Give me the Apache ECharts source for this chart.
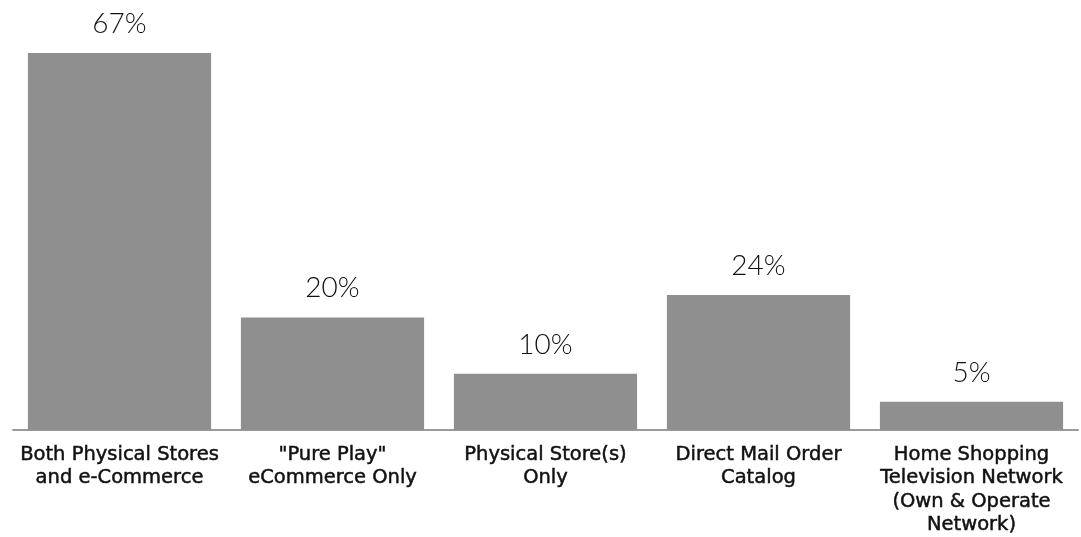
<!DOCTYPE html>
<html>
<head>
<meta charset="utf-8">
<script src="https://cdn.jsdelivr.net/npm/echarts@6/dist/echarts.min.js"></script>
<style>
  html, body { margin: 0; padding: 0; background: #ffffff; }
  #chart { width: 1081px; height: 537px; }
</style>
</head>
<body>
<div id="chart"></div>
<script>
// Share of respondents by retail channel
const categories = [
  'Both Physical Stores\nand e-Commerce',
  '"Pure Play"\neCommerce Only',
  'Physical Store(s)\nOnly',
  'Direct Mail Order\nCatalog',
  'Home Shopping\nTelevision Network\n(Own & Operate\nNetwork)'
];
const shares = [67, 20, 10, 24, 5];

const chart = echarts.init(document.getElementById('chart'));
chart.setOption({
  animation: false,
  grid: { left: 13, right: 3, top: 36, bottom: 105, containLabel: false },
  xAxis: {
    type: 'category',
    data: categories,
    axisLine: { lineStyle: { color: '#9a9a9a', width: 2 } },
    axisTick: { show: false },
    axisLabel: {
      interval: 0,
      margin: 13,
      color: '#111111',
      fontFamily: 'DejaVu Sans',
      fontWeight: 'normal',
      fontSize: 19.5,
      lineHeight: 23.5,
      textBorderColor: '#111111',
      textBorderWidth: 0.5,
      align: 'center'
    }
  },
  yAxis: {
    type: 'value',
    min: 0,
    max: 70,
    show: false,
    splitLine: { show: false }
  },
  series: [{
    type: 'bar',
    data: shares,
    barCategoryGap: '14%',
    itemStyle: { color: '#8f8f8f' },
    label: {
      show: true,
      position: 'top',
      distance: 15,
      formatter: '{c}%',
      color: '#111111',
      fontFamily: 'Lato',
      fontWeight: 300,
      fontSize: 28
    }
  }]
});
</script>
</body>
</html>
